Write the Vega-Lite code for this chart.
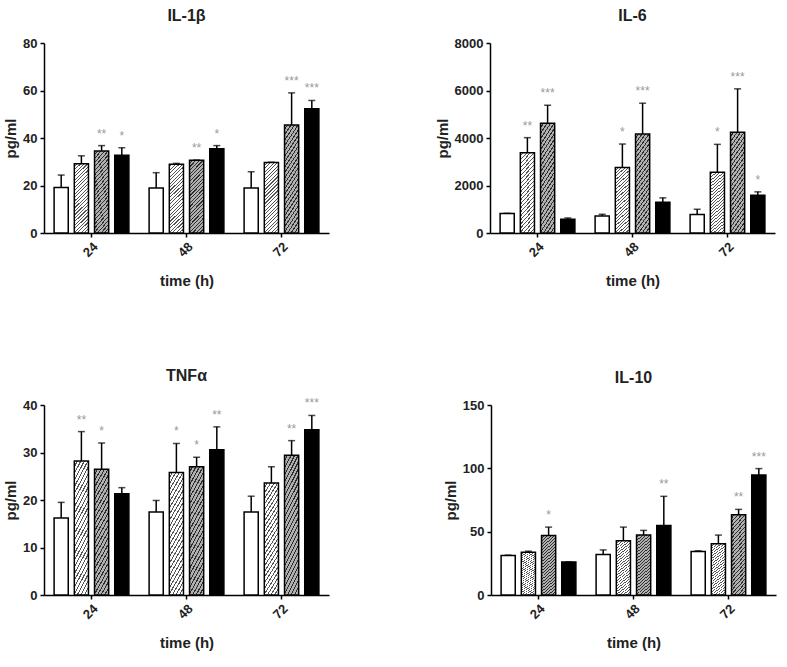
{
"$schema": "https://vega.github.io/schema/vega-lite/v6.json",
"padding": {"left": 3, "top": 8, "right": 5, "bottom": 5},
"params": [
{"name": "hatchA", "value": {"gradient": "linear", "x1": 0, "y1": 0, "x2": 0.231, "y2": 1.154, "stops": [
{"offset":0,"color":"#fff"},{"offset":0.0279,"color":"#fff"},{"offset":0.0279,"color":"#555"},{"offset":0.0417,"color":"#555"},
{"offset":0.0417,"color":"#fff"},{"offset":0.0696,"color":"#fff"},{"offset":0.0696,"color":"#555"},{"offset":0.0833,"color":"#555"},
{"offset":0.0833,"color":"#fff"},{"offset":0.1113,"color":"#fff"},{"offset":0.1113,"color":"#555"},{"offset":0.125,"color":"#555"},
{"offset":0.125,"color":"#fff"},{"offset":0.1529,"color":"#fff"},{"offset":0.1529,"color":"#555"},{"offset":0.1667,"color":"#555"},
{"offset":0.1667,"color":"#fff"},{"offset":0.1946,"color":"#fff"},{"offset":0.1946,"color":"#555"},{"offset":0.2083,"color":"#555"},
{"offset":0.2083,"color":"#fff"},{"offset":0.2363,"color":"#fff"},{"offset":0.2363,"color":"#555"},{"offset":0.25,"color":"#555"},
{"offset":0.25,"color":"#fff"},{"offset":0.2779,"color":"#fff"},{"offset":0.2779,"color":"#555"},{"offset":0.2917,"color":"#555"},
{"offset":0.2917,"color":"#fff"},{"offset":0.3196,"color":"#fff"},{"offset":0.3196,"color":"#555"},{"offset":0.3333,"color":"#555"},
{"offset":0.3333,"color":"#fff"},{"offset":0.3613,"color":"#fff"},{"offset":0.3613,"color":"#555"},{"offset":0.375,"color":"#555"},
{"offset":0.375,"color":"#fff"},{"offset":0.4029,"color":"#fff"},{"offset":0.4029,"color":"#555"},{"offset":0.4167,"color":"#555"},
{"offset":0.4167,"color":"#fff"},{"offset":0.4446,"color":"#fff"},{"offset":0.4446,"color":"#555"},{"offset":0.4583,"color":"#555"},
{"offset":0.4583,"color":"#fff"},{"offset":0.4863,"color":"#fff"},{"offset":0.4863,"color":"#555"},{"offset":0.5,"color":"#555"},
{"offset":0.5,"color":"#fff"},{"offset":0.5279,"color":"#fff"},{"offset":0.5279,"color":"#555"},{"offset":0.5417,"color":"#555"},
{"offset":0.5417,"color":"#fff"},{"offset":0.5696,"color":"#fff"},{"offset":0.5696,"color":"#555"},{"offset":0.5833,"color":"#555"},
{"offset":0.5833,"color":"#fff"},{"offset":0.6113,"color":"#fff"},{"offset":0.6113,"color":"#555"},{"offset":0.625,"color":"#555"},
{"offset":0.625,"color":"#fff"},{"offset":0.6529,"color":"#fff"},{"offset":0.6529,"color":"#555"},{"offset":0.6667,"color":"#555"},
{"offset":0.6667,"color":"#fff"},{"offset":0.6946,"color":"#fff"},{"offset":0.6946,"color":"#555"},{"offset":0.7083,"color":"#555"},
{"offset":0.7083,"color":"#fff"},{"offset":0.7363,"color":"#fff"},{"offset":0.7363,"color":"#555"},{"offset":0.75,"color":"#555"},
{"offset":0.75,"color":"#fff"},{"offset":0.7779,"color":"#fff"},{"offset":0.7779,"color":"#555"},{"offset":0.7917,"color":"#555"},
{"offset":0.7917,"color":"#fff"},{"offset":0.8196,"color":"#fff"},{"offset":0.8196,"color":"#555"},{"offset":0.8333,"color":"#555"},
{"offset":0.8333,"color":"#fff"},{"offset":0.8613,"color":"#fff"},{"offset":0.8613,"color":"#555"},{"offset":0.875,"color":"#555"},
{"offset":0.875,"color":"#fff"},{"offset":0.9029,"color":"#fff"},{"offset":0.9029,"color":"#555"},{"offset":0.9167,"color":"#555"},
{"offset":0.9167,"color":"#fff"},{"offset":0.9446,"color":"#fff"},{"offset":0.9446,"color":"#555"},{"offset":0.9583,"color":"#555"},
{"offset":0.9583,"color":"#fff"},{"offset":0.9863,"color":"#fff"},{"offset":0.9863,"color":"#555"},{"offset":1,"color":"#555"}
]}},
{"name": "hatchB", "value": {"gradient": "linear", "x1": 0, "y1": 0, "x2": 0.231, "y2": 1.154, "stops": [
{"offset":0,"color":"#b0b0b0"},{"offset":0.0279,"color":"#b0b0b0"},{"offset":0.0279,"color":"#2e2e2e"},{"offset":0.0417,"color":"#2e2e2e"},
{"offset":0.0417,"color":"#b0b0b0"},{"offset":0.0696,"color":"#b0b0b0"},{"offset":0.0696,"color":"#2e2e2e"},{"offset":0.0833,"color":"#2e2e2e"},
{"offset":0.0833,"color":"#b0b0b0"},{"offset":0.1113,"color":"#b0b0b0"},{"offset":0.1113,"color":"#2e2e2e"},{"offset":0.125,"color":"#2e2e2e"},
{"offset":0.125,"color":"#b0b0b0"},{"offset":0.1529,"color":"#b0b0b0"},{"offset":0.1529,"color":"#2e2e2e"},{"offset":0.1667,"color":"#2e2e2e"},
{"offset":0.1667,"color":"#b0b0b0"},{"offset":0.1946,"color":"#b0b0b0"},{"offset":0.1946,"color":"#2e2e2e"},{"offset":0.2083,"color":"#2e2e2e"},
{"offset":0.2083,"color":"#b0b0b0"},{"offset":0.2363,"color":"#b0b0b0"},{"offset":0.2363,"color":"#2e2e2e"},{"offset":0.25,"color":"#2e2e2e"},
{"offset":0.25,"color":"#b0b0b0"},{"offset":0.2779,"color":"#b0b0b0"},{"offset":0.2779,"color":"#2e2e2e"},{"offset":0.2917,"color":"#2e2e2e"},
{"offset":0.2917,"color":"#b0b0b0"},{"offset":0.3196,"color":"#b0b0b0"},{"offset":0.3196,"color":"#2e2e2e"},{"offset":0.3333,"color":"#2e2e2e"},
{"offset":0.3333,"color":"#b0b0b0"},{"offset":0.3613,"color":"#b0b0b0"},{"offset":0.3613,"color":"#2e2e2e"},{"offset":0.375,"color":"#2e2e2e"},
{"offset":0.375,"color":"#b0b0b0"},{"offset":0.4029,"color":"#b0b0b0"},{"offset":0.4029,"color":"#2e2e2e"},{"offset":0.4167,"color":"#2e2e2e"},
{"offset":0.4167,"color":"#b0b0b0"},{"offset":0.4446,"color":"#b0b0b0"},{"offset":0.4446,"color":"#2e2e2e"},{"offset":0.4583,"color":"#2e2e2e"},
{"offset":0.4583,"color":"#b0b0b0"},{"offset":0.4863,"color":"#b0b0b0"},{"offset":0.4863,"color":"#2e2e2e"},{"offset":0.5,"color":"#2e2e2e"},
{"offset":0.5,"color":"#b0b0b0"},{"offset":0.5279,"color":"#b0b0b0"},{"offset":0.5279,"color":"#2e2e2e"},{"offset":0.5417,"color":"#2e2e2e"},
{"offset":0.5417,"color":"#b0b0b0"},{"offset":0.5696,"color":"#b0b0b0"},{"offset":0.5696,"color":"#2e2e2e"},{"offset":0.5833,"color":"#2e2e2e"},
{"offset":0.5833,"color":"#b0b0b0"},{"offset":0.6113,"color":"#b0b0b0"},{"offset":0.6113,"color":"#2e2e2e"},{"offset":0.625,"color":"#2e2e2e"},
{"offset":0.625,"color":"#b0b0b0"},{"offset":0.6529,"color":"#b0b0b0"},{"offset":0.6529,"color":"#2e2e2e"},{"offset":0.6667,"color":"#2e2e2e"},
{"offset":0.6667,"color":"#b0b0b0"},{"offset":0.6946,"color":"#b0b0b0"},{"offset":0.6946,"color":"#2e2e2e"},{"offset":0.7083,"color":"#2e2e2e"},
{"offset":0.7083,"color":"#b0b0b0"},{"offset":0.7363,"color":"#b0b0b0"},{"offset":0.7363,"color":"#2e2e2e"},{"offset":0.75,"color":"#2e2e2e"},
{"offset":0.75,"color":"#b0b0b0"},{"offset":0.7779,"color":"#b0b0b0"},{"offset":0.7779,"color":"#2e2e2e"},{"offset":0.7917,"color":"#2e2e2e"},
{"offset":0.7917,"color":"#b0b0b0"},{"offset":0.8196,"color":"#b0b0b0"},{"offset":0.8196,"color":"#2e2e2e"},{"offset":0.8333,"color":"#2e2e2e"},
{"offset":0.8333,"color":"#b0b0b0"},{"offset":0.8613,"color":"#b0b0b0"},{"offset":0.8613,"color":"#2e2e2e"},{"offset":0.875,"color":"#2e2e2e"},
{"offset":0.875,"color":"#b0b0b0"},{"offset":0.9029,"color":"#b0b0b0"},{"offset":0.9029,"color":"#2e2e2e"},{"offset":0.9167,"color":"#2e2e2e"},
{"offset":0.9167,"color":"#b0b0b0"},{"offset":0.9446,"color":"#b0b0b0"},{"offset":0.9446,"color":"#2e2e2e"},{"offset":0.9583,"color":"#2e2e2e"},
{"offset":0.9583,"color":"#b0b0b0"},{"offset":0.9863,"color":"#b0b0b0"},{"offset":0.9863,"color":"#2e2e2e"},{"offset":1,"color":"#2e2e2e"}
]}}
],
"datasets": {
"cyto": [
{"cytokine":"IL-1β","time":"24","group":"g1","mean":19.2,"upper":24.4,"sig":""},
{"cytokine":"IL-1β","time":"24","group":"g2","mean":29.2,"upper":32.5,"sig":""},
{"cytokine":"IL-1β","time":"24","group":"g3","mean":34.5,"upper":36.8,"sig":"**"},
{"cytokine":"IL-1β","time":"24","group":"g4","mean":32.7,"upper":35.9,"sig":"*"},
{"cytokine":"IL-1β","time":"48","group":"g1","mean":19.0,"upper":25.4,"sig":""},
{"cytokine":"IL-1β","time":"48","group":"g2","mean":29.0,"upper":29.3,"sig":""},
{"cytokine":"IL-1β","time":"48","group":"g3","mean":30.6,"upper":30.7,"sig":"**"},
{"cytokine":"IL-1β","time":"48","group":"g4","mean":35.5,"upper":36.8,"sig":"*"},
{"cytokine":"IL-1β","time":"72","group":"g1","mean":19.0,"upper":25.8,"sig":""},
{"cytokine":"IL-1β","time":"72","group":"g2","mean":29.7,"upper":29.8,"sig":""},
{"cytokine":"IL-1β","time":"72","group":"g3","mean":45.5,"upper":59.0,"sig":"***"},
{"cytokine":"IL-1β","time":"72","group":"g4","mean":52.3,"upper":55.8,"sig":"***"},
{"cytokine":"IL-6","time":"24","group":"g1","mean":817,"upper":830,"sig":""},
{"cytokine":"IL-6","time":"24","group":"g2","mean":3380,"upper":4014,"sig":"**"},
{"cytokine":"IL-6","time":"24","group":"g3","mean":4620,"upper":5380,"sig":"***"},
{"cytokine":"IL-6","time":"24","group":"g4","mean":577,"upper":634,"sig":""},
{"cytokine":"IL-6","time":"48","group":"g1","mean":718,"upper":789,"sig":""},
{"cytokine":"IL-6","time":"48","group":"g2","mean":2760,"upper":3746,"sig":"*"},
{"cytokine":"IL-6","time":"48","group":"g3","mean":4169,"upper":5465,"sig":"***"},
{"cytokine":"IL-6","time":"48","group":"g4","mean":1296,"upper":1479,"sig":""},
{"cytokine":"IL-6","time":"72","group":"g1","mean":775,"upper":1000,"sig":""},
{"cytokine":"IL-6","time":"72","group":"g2","mean":2563,"upper":3732,"sig":"*"},
{"cytokine":"IL-6","time":"72","group":"g3","mean":4239,"upper":6070,"sig":"***"},
{"cytokine":"IL-6","time":"72","group":"g4","mean":1592,"upper":1732,"sig":"*"},
{"cytokine":"TNFα","time":"24","group":"g1","mean":16.2,"upper":19.5,"sig":""},
{"cytokine":"TNFα","time":"24","group":"g2","mean":28.2,"upper":34.4,"sig":"**"},
{"cytokine":"TNFα","time":"24","group":"g3","mean":26.5,"upper":32.0,"sig":"*"},
{"cytokine":"TNFα","time":"24","group":"g4","mean":21.3,"upper":22.6,"sig":""},
{"cytokine":"TNFα","time":"48","group":"g1","mean":17.5,"upper":19.9,"sig":""},
{"cytokine":"TNFα","time":"48","group":"g2","mean":25.8,"upper":31.9,"sig":"*"},
{"cytokine":"TNFα","time":"48","group":"g3","mean":27.0,"upper":29.0,"sig":"*"},
{"cytokine":"TNFα","time":"48","group":"g4","mean":30.6,"upper":35.4,"sig":"**"},
{"cytokine":"TNFα","time":"72","group":"g1","mean":17.5,"upper":20.8,"sig":""},
{"cytokine":"TNFα","time":"72","group":"g2","mean":23.6,"upper":27.0,"sig":""},
{"cytokine":"TNFα","time":"72","group":"g3","mean":29.4,"upper":32.5,"sig":"**"},
{"cytokine":"TNFα","time":"72","group":"g4","mean":34.8,"upper":37.8,"sig":"***"},
{"cytokine":"IL-10","time":"24","group":"g1","mean":31.2,"upper":31.5,"sig":""},
{"cytokine":"IL-10","time":"24","group":"g2","mean":33.8,"upper":34.6,"sig":""},
{"cytokine":"IL-10","time":"24","group":"g3","mean":47.0,"upper":53.6,"sig":"*"},
{"cytokine":"IL-10","time":"24","group":"g4","mean":26.1,"upper":26.1,"sig":""},
{"cytokine":"IL-10","time":"48","group":"g1","mean":32.0,"upper":35.6,"sig":""},
{"cytokine":"IL-10","time":"48","group":"g2","mean":42.8,"upper":53.6,"sig":""},
{"cytokine":"IL-10","time":"48","group":"g3","mean":47.3,"upper":51.0,"sig":""},
{"cytokine":"IL-10","time":"48","group":"g4","mean":54.9,"upper":77.9,"sig":"**"},
{"cytokine":"IL-10","time":"72","group":"g1","mean":34.3,"upper":34.9,"sig":""},
{"cytokine":"IL-10","time":"72","group":"g2","mean":40.4,"upper":47.3,"sig":""},
{"cytokine":"IL-10","time":"72","group":"g3","mean":63.4,"upper":67.6,"sig":"**"},
{"cytokine":"IL-10","time":"72","group":"g4","mean":94.8,"upper":99.8,"sig":"***"}
]
},
"spacing": 79,
"vconcat": [
{"spacing": 106, "hconcat": [
{"width": 285, "height": 190, "title": "IL-1β", "data": {"name": "cyto"},
 "transform": [{"filter": "datum.cytokine === 'IL-1β'"}],
 "encoding": {
  "x": {"field": "time", "type": "nominal", "sort": ["24","48","72"], "title": "time (h)", "scale": {"paddingInner": 0, "paddingOuter": 0}},
  "xOffset": {"field": "group", "type": "nominal", "sort": ["g1","g2","g3","g4"], "scale": {"domain": ["g1","g2","g3","g4"], "paddingInner": 0.3, "paddingOuter": 0.5}}
 },
 "layer": [
  {"mark": {"type": "bar", "stroke": "black", "strokeWidth": 1.5, "fill": {"expr": "datum.group === 'g1' ? 'white' : datum.group === 'g2' ? hatchA : datum.group === 'g3' ? hatchB : 'black'"}},
   "encoding": {"y": {"field": "mean", "type": "quantitative", "title": "pg/ml", "scale": {"domain": [0, 80], "nice": false}, "axis": {"values": [0, 20, 40, 60, 80]}}}},
  {"mark": {"type": "rule", "color": "black", "strokeWidth": 1.5},
   "encoding": {"y": {"field": "mean", "type": "quantitative", "title": "pg/ml", "scale": {"domain": [0, 80], "nice": false}}, "y2": {"field": "upper"}}},
  {"mark": {"type": "tick", "color": "black", "size": 7, "thickness": 1.5},
   "encoding": {"y": {"field": "upper", "type": "quantitative", "title": "pg/ml", "scale": {"domain": [0, 80], "nice": false}}}},
  {"transform": [{"filter": "datum.sig !== ''"}],
   "mark": {"type": "text", "color": "#999999", "fontSize": 12, "baseline": "alphabetic", "dy": -8},
   "encoding": {"y": {"field": "upper", "type": "quantitative", "title": "pg/ml", "scale": {"domain": [0, 80], "nice": false}}, "text": {"field": "sig"}}}
 ]},
{"width": 285, "height": 190, "title": "IL-6", "data": {"name": "cyto"},
 "transform": [{"filter": "datum.cytokine === 'IL-6'"}],
 "encoding": {
  "x": {"field": "time", "type": "nominal", "sort": ["24","48","72"], "title": "time (h)", "scale": {"paddingInner": 0, "paddingOuter": 0}},
  "xOffset": {"field": "group", "type": "nominal", "sort": ["g1","g2","g3","g4"], "scale": {"domain": ["g1","g2","g3","g4"], "paddingInner": 0.3, "paddingOuter": 0.5}}
 },
 "layer": [
  {"mark": {"type": "bar", "stroke": "black", "strokeWidth": 1.5, "fill": {"expr": "datum.group === 'g1' ? 'white' : datum.group === 'g2' ? hatchA : datum.group === 'g3' ? hatchB : 'black'"}},
   "encoding": {"y": {"field": "mean", "type": "quantitative", "title": "pg/ml", "scale": {"domain": [0, 8000], "nice": false}, "axis": {"values": [0, 2000, 4000, 6000, 8000], "format": "d"}}}},
  {"mark": {"type": "rule", "color": "black", "strokeWidth": 1.5},
   "encoding": {"y": {"field": "mean", "type": "quantitative", "title": "pg/ml", "scale": {"domain": [0, 8000], "nice": false}}, "y2": {"field": "upper"}}},
  {"mark": {"type": "tick", "color": "black", "size": 7, "thickness": 1.5},
   "encoding": {"y": {"field": "upper", "type": "quantitative", "title": "pg/ml", "scale": {"domain": [0, 8000], "nice": false}}}},
  {"transform": [{"filter": "datum.sig !== ''"}],
   "mark": {"type": "text", "color": "#999999", "fontSize": 12, "baseline": "alphabetic", "dy": -8},
   "encoding": {"y": {"field": "upper", "type": "quantitative", "title": "pg/ml", "scale": {"domain": [0, 8000], "nice": false}}, "text": {"field": "sig"}}}
 ]}
]},
{"spacing": 114, "hconcat": [
{"width": 285, "height": 190, "title": "TNFα", "data": {"name": "cyto"},
 "transform": [{"filter": "datum.cytokine === 'TNFα'"}],
 "encoding": {
  "x": {"field": "time", "type": "nominal", "sort": ["24","48","72"], "title": "time (h)", "scale": {"paddingInner": 0, "paddingOuter": 0}},
  "xOffset": {"field": "group", "type": "nominal", "sort": ["g1","g2","g3","g4"], "scale": {"domain": ["g1","g2","g3","g4"], "paddingInner": 0.3, "paddingOuter": 0.5}}
 },
 "layer": [
  {"mark": {"type": "bar", "stroke": "black", "strokeWidth": 1.5, "fill": {"expr": "datum.group === 'g1' ? 'white' : datum.group === 'g2' ? hatchA : datum.group === 'g3' ? hatchB : 'black'"}},
   "encoding": {"y": {"field": "mean", "type": "quantitative", "title": "pg/ml", "scale": {"domain": [0, 40], "nice": false}, "axis": {"values": [0, 10, 20, 30, 40]}}}},
  {"mark": {"type": "rule", "color": "black", "strokeWidth": 1.5},
   "encoding": {"y": {"field": "mean", "type": "quantitative", "title": "pg/ml", "scale": {"domain": [0, 40], "nice": false}}, "y2": {"field": "upper"}}},
  {"mark": {"type": "tick", "color": "black", "size": 7, "thickness": 1.5},
   "encoding": {"y": {"field": "upper", "type": "quantitative", "title": "pg/ml", "scale": {"domain": [0, 40], "nice": false}}}},
  {"transform": [{"filter": "datum.sig !== ''"}],
   "mark": {"type": "text", "color": "#999999", "fontSize": 12, "baseline": "alphabetic", "dy": -8},
   "encoding": {"y": {"field": "upper", "type": "quantitative", "title": "pg/ml", "scale": {"domain": [0, 40], "nice": false}}, "text": {"field": "sig"}}}
 ]},
{"width": 285, "height": 190, "title": "IL-10", "data": {"name": "cyto"},
 "transform": [{"filter": "datum.cytokine === 'IL-10'"}],
 "encoding": {
  "x": {"field": "time", "type": "nominal", "sort": ["24","48","72"], "title": "time (h)", "scale": {"paddingInner": 0, "paddingOuter": 0}},
  "xOffset": {"field": "group", "type": "nominal", "sort": ["g1","g2","g3","g4"], "scale": {"domain": ["g1","g2","g3","g4"], "paddingInner": 0.3, "paddingOuter": 0.5}}
 },
 "layer": [
  {"mark": {"type": "bar", "stroke": "black", "strokeWidth": 1.5, "fill": {"expr": "datum.group === 'g1' ? 'white' : datum.group === 'g2' ? hatchA : datum.group === 'g3' ? hatchB : 'black'"}},
   "encoding": {"y": {"field": "mean", "type": "quantitative", "title": "pg/ml", "scale": {"domain": [0, 150], "nice": false}, "axis": {"values": [0, 50, 100, 150]}}}},
  {"mark": {"type": "rule", "color": "black", "strokeWidth": 1.5},
   "encoding": {"y": {"field": "mean", "type": "quantitative", "title": "pg/ml", "scale": {"domain": [0, 150], "nice": false}}, "y2": {"field": "upper"}}},
  {"mark": {"type": "tick", "color": "black", "size": 7, "thickness": 1.5},
   "encoding": {"y": {"field": "upper", "type": "quantitative", "title": "pg/ml", "scale": {"domain": [0, 150], "nice": false}}}},
  {"transform": [{"filter": "datum.sig !== ''"}],
   "mark": {"type": "text", "color": "#999999", "fontSize": 12, "baseline": "alphabetic", "dy": -8},
   "encoding": {"y": {"field": "upper", "type": "quantitative", "title": "pg/ml", "scale": {"domain": [0, 150], "nice": false}}, "text": {"field": "sig"}}}
 ]}
]}
],
"config": {
 "font": "Liberation Sans",
 "view": {"stroke": null},
 "axis": {"grid": false, "domainColor": "#000000", "domainWidth": 1.5, "tickColor": "#000000", "tickWidth": 1.5, "tickSize": 4, "labelColor": "#222222", "labelFontSize": 13, "labelFontWeight": "bold", "labelPadding": 3, "titleColor": "#222222", "titleFontSize": 15, "titleFontWeight": "bold"},
 "axisX": {"labelAngle": -45, "titlePadding": 14},
 "axisY": {"titlePadding": 4},
 "title": {"fontSize": 16, "fontWeight": "bold", "color": "#222222", "offset": 13}
}
}
